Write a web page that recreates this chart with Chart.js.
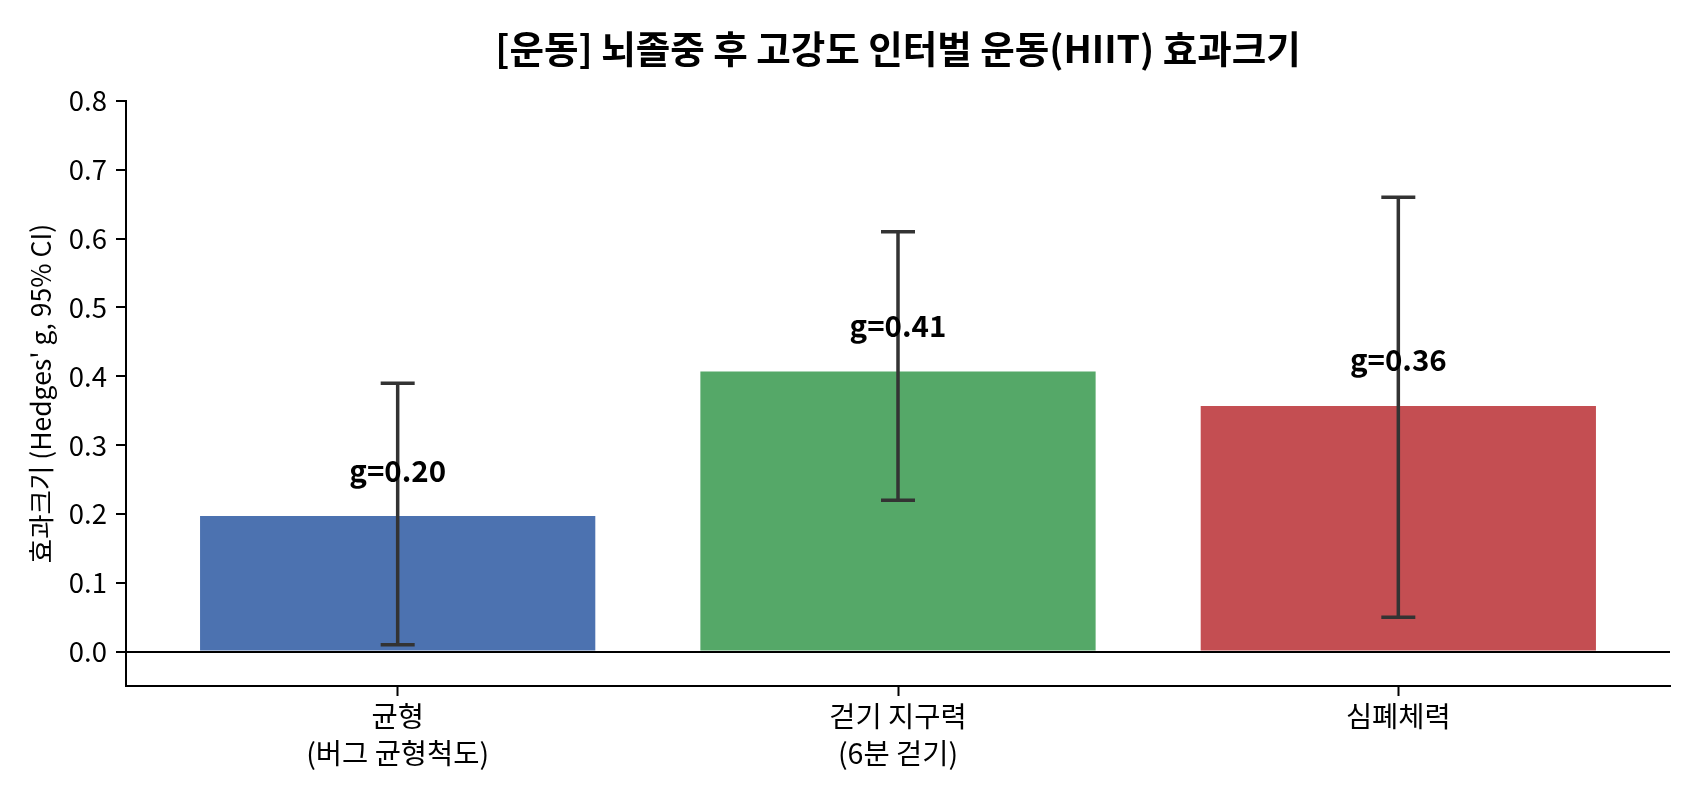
<!DOCTYPE html>
<html>
<head>
<meta charset="utf-8">
<script src="https://cdn.jsdelivr.net/npm/chart.js@4"></script>
<style>
  html, body { margin: 0; padding: 0; background: #fff; }
  #wrap { width: 1700px; height: 800px; }
</style>
</head>
<body>
<div id="wrap"><canvas id="c" width="1700" height="800"></canvas></div>
<script>
// ---- data ----
const categories = [["균형", "(버그 균형척도)"], ["걷기 지구력", "(6분 걷기)"], ["심폐체력"]];
const effectSizes = [0.197, 0.407, 0.357];
const ciLower = [0.01, 0.22, 0.05];
const ciUpper = [0.39, 0.61, 0.66];
const barColors = ["#4C72B0", "#55A868", "#C44E52"];
const yTicks = [0.0, 0.1, 0.2, 0.3, 0.4, 0.5, 0.6, 0.7, 0.8];
const titleText = "[운동] 뇌졸중 후 고강도 인터벌 운동(HIIT) 효과크기";
const yAxisTitle = "효과크기 (Hedges' g, 95% CI)";

const FONT = "'Noto Sans CJK KR', 'Noto Sans', sans-serif";

const errorBarPlugin = {
  id: 'errorBars',
  afterDatasetsDraw(chart) {
    const ctx = chart.ctx;
    const xs = chart.scales.x, ys = chart.scales.y;
    ctx.save();
    ctx.strokeStyle = '#333333';
    ctx.lineWidth = 3.5;
    ctx.lineCap = 'butt';
    effectSizes.forEach((v, i) => {
      const x = xs.getPixelForValue(i);
      const yl = ys.getPixelForValue(ciLower[i]);
      const yh = ys.getPixelForValue(ciUpper[i]);
      const cap = 17;
      ctx.beginPath();
      ctx.moveTo(x, yl); ctx.lineTo(x, yh);
      ctx.moveTo(x - cap, yl); ctx.lineTo(x + cap, yl);
      ctx.moveTo(x - cap, yh); ctx.lineTo(x + cap, yh);
      ctx.stroke();
    });
    // value labels
    ctx.fillStyle = '#000';
    ctx.font = "bold 29.5px " + FONT;
    ctx.textAlign = 'center';
    ctx.textBaseline = 'alphabetic';
    effectSizes.forEach((v, i) => {
      const x = xs.getPixelForValue(i);
      const y = ys.getPixelForValue(v + 0.05);
      ctx.fillText('g=' + v.toFixed(2), x, y);
    });
    ctx.restore();
  }
};

// title centered over the plot area (as in the reference)
const plotTitlePlugin = {
  id: 'plotTitle',
  afterDraw(chart) {
    const ctx = chart.ctx;
    const a = chart.chartArea;
    ctx.save();
    ctx.fillStyle = '#000';
    ctx.font = "bold 37.5px " + FONT;
    ctx.textAlign = 'center';
    ctx.textBaseline = 'middle';
    ctx.fillText(titleText, (a.left + a.right) / 2, 49);
    ctx.restore();
  }
};

new Chart(document.getElementById('c'), {
  type: 'bar',
  data: {
    datasets: [{
      data: effectSizes.map((v, i) => ({ x: i, y: v })),
      backgroundColor: barColors,
      borderWidth: 0,
      barPercentage: 0.79,
      categoryPercentage: 1.0
    }]
  },
  options: {
    responsive: false,
    devicePixelRatio: 1,
    animation: false,
    layout: { padding: { left: 0, right: 30, top: 101, bottom: 0 } },
    plugins: {
      legend: { display: false },
      tooltip: { enabled: false },
      title: { display: false }
    },
    scales: {
      x: {
        type: 'linear',
        min: -0.543,
        max: 2.543,
        offset: false,
        afterBuildTicks(scale) { scale.ticks = [{ value: 0 }, { value: 1 }, { value: 2 }]; },
        afterFit(scale) { scale.height = 114; },
        ticks: {
          color: '#000',
          font: { family: FONT, size: 28.5, lineHeight: 1.28 },
          padding: 2,
          maxRotation: 0,
          autoSkip: false,
          callback: (v) => categories[v] !== undefined ? categories[v] : ''
        },
        grid: {
          offset: false,
          drawOnChartArea: false,
          drawTicks: true,
          tickLength: 10,
          tickColor: '#000',
          tickWidth: 2,
          color: '#000'
        },
        border: { display: true, color: '#000', width: 2 }
      },
      y: {
        min: -0.05,
        max: 0.8,
        afterBuildTicks(scale) { scale.ticks = yTicks.map(v => ({ value: v })); },
        afterFit(scale) { scale.width = 126; },
        ticks: {
          color: '#000',
          font: { family: FONT, size: 27.5 },
          padding: 9,
          callback: (v) => Number(v).toFixed(1)
        },
        grid: {
          drawTicks: true,
          tickLength: 10,
          tickColor: '#000',
          tickWidth: 2,
          lineWidth: 2,
          color: (c) => (c.tick && Math.abs(c.tick.value) < 1e-9) ? '#000' : 'rgba(0,0,0,0)'
        },
        border: { display: true, color: '#000', width: 2 },
        title: {
          display: true,
          text: yAxisTitle,
          color: '#000',
          font: { family: FONT, size: 26.5, lineHeight: 1.2 },
          padding: { top: 25, bottom: 0 }
        }
      }
    }
  },
  plugins: [errorBarPlugin, plotTitlePlugin]
});
</script>
</body>
</html>
